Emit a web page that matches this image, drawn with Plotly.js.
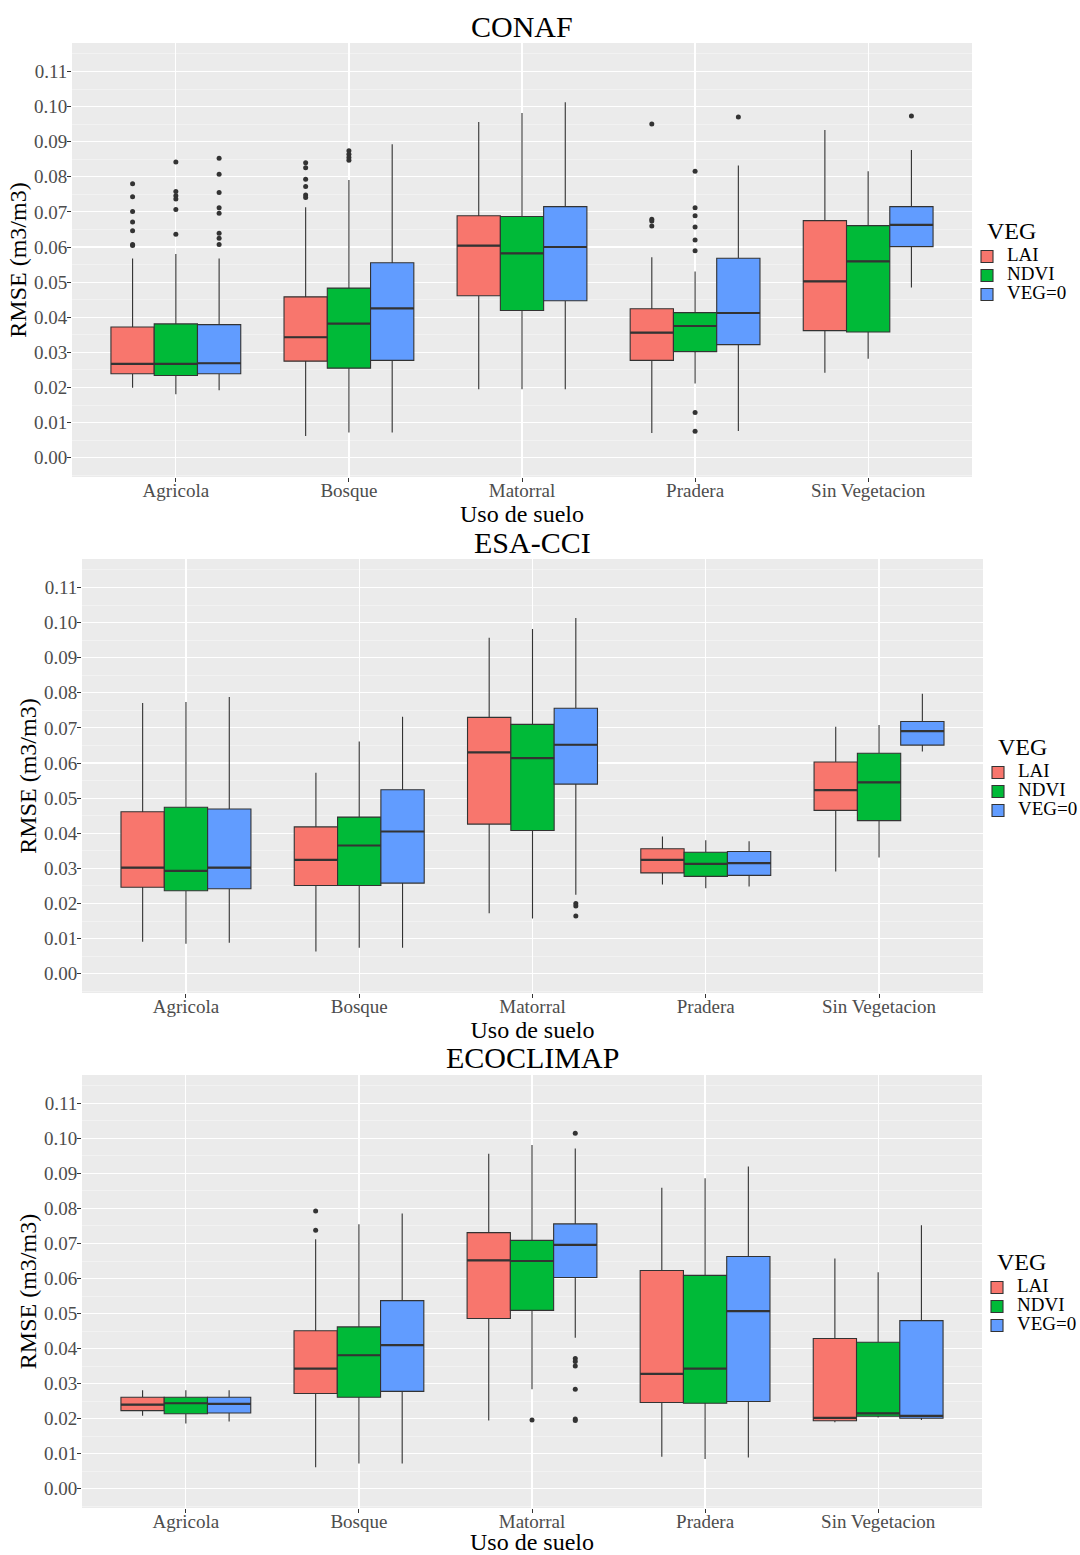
<!DOCTYPE html>
<html><head><meta charset="utf-8">
<script src="https://cdn.plot.ly/plotly-3.0.1.min.js"></script>
<style>html,body{margin:0;padding:0;background:#fff}</style>
</head><body><div id="chart" style="width:1080px;height:1555px"></div>
<script>
// ---------------- DATA ----------------
const categories = ['Agricola', 'Bosque', 'Matorral', 'Pradera', 'Sin Vegetacion'];
const seriesNames = ['LAI', 'NDVI', 'VEG=0'];
const panelTitles = ['CONAF', 'ESA-CCI', 'ECOCLIMAP'];
const yTickVals = [0, 0.01, 0.02, 0.03, 0.04, 0.05, 0.06, 0.07, 0.08, 0.09, 0.10, 0.11];

// CONAF
const CONAF_LAI = {
  lower: [0.0199, 0.0062, 0.0195, 0.0070, 0.0242],
  q1: [0.0239, 0.0275, 0.0461, 0.0277, 0.0362],
  median: [0.0267, 0.0343, 0.0604, 0.0356, 0.0502],
  q3: [0.0372, 0.0458, 0.0689, 0.0424, 0.0675],
  upper: [0.0567, 0.0713, 0.0956, 0.0571, 0.0933],
  outliers: [[0.0780, 0.0743, 0.0701, 0.0671, 0.0646, 0.0607, 0.0604], [0.0840, 0.0826, 0.0793, 0.0772, 0.0748, 0.0741], [], [0.0950, 0.0679, 0.0674, 0.0660], []]
};
const CONAF_NDVI = {
  lower: [0.0181, 0.0072, 0.0195, 0.0211, 0.0282],
  q1: [0.0234, 0.0255, 0.0419, 0.0302, 0.0358],
  median: [0.0267, 0.0382, 0.0582, 0.0375, 0.0559],
  q3: [0.0381, 0.0483, 0.0687, 0.0413, 0.0661],
  upper: [0.0580, 0.0791, 0.0982, 0.0530, 0.0816],
  outliers: [[0.0842, 0.0758, 0.0746, 0.0737, 0.0707, 0.0636], [0.0874, 0.0864, 0.0855, 0.0847], [], [0.0816, 0.0712, 0.0689, 0.0657, 0.0620, 0.0589, 0.0129, 0.0075], []]
};
const CONAF_VEG0 = {
  lower: [0.0192, 0.0072, 0.0195, 0.0076, 0.0485],
  q1: [0.0239, 0.0277, 0.0447, 0.0322, 0.0601],
  median: [0.0269, 0.0425, 0.0600, 0.0412, 0.0663],
  q3: [0.0379, 0.0555, 0.0715, 0.0568, 0.0715],
  upper: [0.0567, 0.0893, 0.1012, 0.0832, 0.0876],
  outliers: [[0.0853, 0.0807, 0.0755, 0.0712, 0.0696, 0.0639, 0.0625, 0.0607], [], [], [0.0970], [0.0973]]
};

// ESA-CCI
const ESA_LAI = {
  lower: [0.0091, 0.0063, 0.0172, 0.0254, 0.0291],
  q1: [0.0246, 0.0251, 0.0426, 0.0287, 0.0465],
  median: [0.0302, 0.0324, 0.0630, 0.0324, 0.0523],
  q3: [0.0461, 0.0418, 0.0730, 0.0356, 0.0603],
  upper: [0.0771, 0.0572, 0.0957, 0.0391, 0.0703],
  outliers: [[], [], [], [], []]
};
const ESA_NDVI = {
  lower: [0.0085, 0.0074, 0.0157, 0.0243, 0.0331],
  q1: [0.0236, 0.0251, 0.0408, 0.0277, 0.0436],
  median: [0.0293, 0.0365, 0.0614, 0.0313, 0.0545],
  q3: [0.0474, 0.0446, 0.0710, 0.0346, 0.0628],
  upper: [0.0774, 0.0661, 0.0982, 0.0380, 0.0708],
  outliers: [[], [], [], [], []]
};
const ESA_VEG0 = {
  lower: [0.0088, 0.0074, 0.0225, 0.0248, 0.0633],
  q1: [0.0242, 0.0258, 0.0540, 0.0280, 0.0651],
  median: [0.0302, 0.0405, 0.0652, 0.0315, 0.0691],
  q3: [0.0469, 0.0524, 0.0756, 0.0348, 0.0718],
  upper: [0.0788, 0.0732, 0.1013, 0.0377, 0.0797],
  outliers: [[], [], [0.0200, 0.0193, 0.0164], [], []]
};

// ECOCLIMAP
const ECO_LAI = {
  lower: [0.0208, 0.0061, 0.0195, 0.0091, 0.0190],
  q1: [0.0223, 0.0272, 0.0486, 0.0246, 0.0194],
  median: [0.0240, 0.0343, 0.0652, 0.0328, 0.0202],
  q3: [0.0261, 0.0451, 0.0731, 0.0623, 0.0429],
  upper: [0.0281, 0.0712, 0.0956, 0.0859, 0.0657],
  outliers: [[], [0.0793, 0.0738], [], [], []]
};
const ECO_NDVI = {
  lower: [0.0186, 0.0072, 0.0284, 0.0085, 0.0203],
  q1: [0.0214, 0.0261, 0.0509, 0.0244, 0.0207],
  median: [0.0244, 0.0381, 0.0650, 0.0343, 0.0215],
  q3: [0.0261, 0.0462, 0.0709, 0.0609, 0.0418],
  upper: [0.0281, 0.0755, 0.0981, 0.0886, 0.0618],
  outliers: [[], [], [0.0196], [], []]
};
const ECO_VEG0 = {
  lower: [0.0192, 0.0072, 0.0431, 0.0089, 0.0196],
  q1: [0.0216, 0.0278, 0.0603, 0.0249, 0.0201],
  median: [0.0242, 0.0410, 0.0696, 0.0507, 0.0208],
  q3: [0.0261, 0.0537, 0.0756, 0.0663, 0.0480],
  upper: [0.0281, 0.0786, 0.0971, 0.0920, 0.0752],
  outliers: [[], [], [0.1015, 0.0372, 0.0363, 0.0350, 0.0284, 0.0199, 0.0195], [], []]
};

const panelData = [
  [CONAF_LAI, CONAF_NDVI, CONAF_VEG0],
  [ESA_LAI, ESA_NDVI, ESA_VEG0],
  [ECO_LAI, ECO_NDVI, ECO_VEG0]
];

// ---------------- STYLE / LAYOUT ----------------
const W = 1080, H = 1555;
const fills = ['#F8766D', '#00BA38', '#619CFF'];
const lineCol = '#333333';
const FONT = 'Liberation Serif, Times New Roman, serif';
const boxW = 0.25;
const offsets = [-0.25, 0, 0.25];

// panel pixel boxes
const panelsPx = [
  {l: 72, r: 972, t: 43, b: 477, titleY: 26, vegX: 986, vegY: 231, legX: 967, legY: 242},
  {l: 82, r: 983, t: 559, b: 993, titleY: 542, vegX: 997, vegY: 747, legX: 978, legY: 758},
  {l: 82, r: 982, t: 1075, b: 1508, titleY: 1057, vegX: 996, vegY: 1262, legX: 977, legY: 1273}
];
const px = x => x / W;
const py = y => 1 - y / H;

const traces = [];
const layout = {
  width: W, height: H,
  margin: {l: 0, r: 0, t: 0, b: 0, autoexpand: false},
  paper_bgcolor: '#ffffff',
  plot_bgcolor: '#EBEBEB',
  boxmode: 'overlay',
  showlegend: true,
  font: {family: FONT, color: '#000'},
  annotations: []
};

panelsPx.forEach((p, i) => {
  const n = i === 0 ? '' : String(i + 1);
  const xa = 'x' + n, ya = 'y' + n;
  const legName = 'legend' + n;

  layout['xaxis' + n] = {
    domain: [px(p.l), px(p.r)],
    anchor: ya,
    range: [-0.6, categories.length - 0.4],
    tickmode: 'array',
    tickvals: categories.map((c, k) => k),
    ticktext: categories,
    ticks: 'outside', ticklen: 4, tickwidth: 1, tickcolor: lineCol,
    ticklabelstandoff: -8,
    tickfont: {family: FONT, size: 19, color: '#4D4D4D'},
    showgrid: true, gridcolor: '#FFFFFF', gridwidth: 1.2,
    zeroline: false, showline: false, fixedrange: true,
    title: {text: 'Uso de suelo', font: {family: FONT, size: 24, color: '#000'}, standoff: 0}
  };
  layout['yaxis' + n] = {
    domain: [py(p.b), py(p.t)],
    anchor: xa,
    range: [-0.0055, 0.1181],
    tickmode: 'array',
    tickvals: yTickVals,
    ticktext: yTickVals.map(v => v.toFixed(2)),
    ticks: 'outside', ticklen: 4, tickwidth: 1, tickcolor: lineCol,
    ticklabelstandoff: -4,
    tickfont: {family: FONT, size: 19, color: '#4D4D4D'},
    showgrid: true, gridcolor: '#FFFFFF', gridwidth: 1.2,
    minor: {tickmode: 'linear', tick0: 0.005, dtick: 0.01, showgrid: true, gridcolor: '#F7F7F7', gridwidth: 0.6, ticks: ''},
    zeroline: false, showline: false, fixedrange: true,
    title: {text: 'RMSE (m3/m3)', font: {family: FONT, size: 24, color: '#000'}, standoff: 0}
  };
  layout[legName] = {
    x: px(p.legX), y: py(p.legY), xanchor: 'left', yanchor: 'top',
    bgcolor: 'rgba(0,0,0,0)', borderwidth: 0,
    font: {family: FONT, size: 12, color: '#000'},
    itemwidth: 30, tracegroupgap: 0
  };
  // panel title
  layout.annotations.push({
    text: panelTitles[i], xref: 'paper', yref: 'paper',
    x: px((p.l + p.r) / 2), y: py(p.titleY), xanchor: 'center', yanchor: 'middle',
    showarrow: false, font: {family: FONT, size: 30, color: '#000'}
  });
  // legend title
  layout.annotations.push({
    text: 'VEG', xref: 'paper', yref: 'paper',
    x: px(p.vegX), y: py(p.vegY), xanchor: 'left', yanchor: 'middle',
    showarrow: false, font: {family: FONT, size: 24, color: '#000'}, borderpad: 0
  });

  panelData[i].forEach((s, j) => {
    const xs = categories.map((c, k) => k + offsets[j]);
    traces.push({
      type: 'box', legend: legName,
      name: '<span style="font-size:19px">' + seriesNames[j] + '</span>',
      xaxis: xa, yaxis: ya,
      x: xs, q1: s.q1, median: s.median, q3: s.q3,
      lowerfence: s.lower, upperfence: s.upper,
      width: boxW, whiskerwidth: 0, boxpoints: false,
      fillcolor: fills[j], line: {color: lineCol, width: 1.1},
      hoverinfo: 'y', showlegend: true
    });
    // thicker median segments (ggplot style), built from the median data
    const mx = [], my = [];
    s.median.forEach((m, k) => {
      mx.push(xs[k] - boxW / 2, xs[k] + boxW / 2, null);
      my.push(m, m, null);
    });
    traces.push({
      type: 'scatter', mode: 'lines', xaxis: xa, yaxis: ya,
      x: mx, y: my, showlegend: false, legend: legName,
      line: {color: lineCol, width: 2.2}, hoverinfo: 'skip'
    });
    const ox = [], oy = [];
    s.outliers.forEach((arr, k) => arr.forEach(v => { ox.push(k + offsets[j]); oy.push(v); }));
    if (ox.length) {
      traces.push({
        type: 'scatter', mode: 'markers', xaxis: xa, yaxis: ya,
        x: ox, y: oy, showlegend: false, legend: legName,
        marker: {color: lineCol, size: 5}, hoverinfo: 'y'
      });
    }
  });
});

Plotly.newPlot('chart', traces, layout, {staticPlot: true, displayModeBar: false});
</script></body></html>
